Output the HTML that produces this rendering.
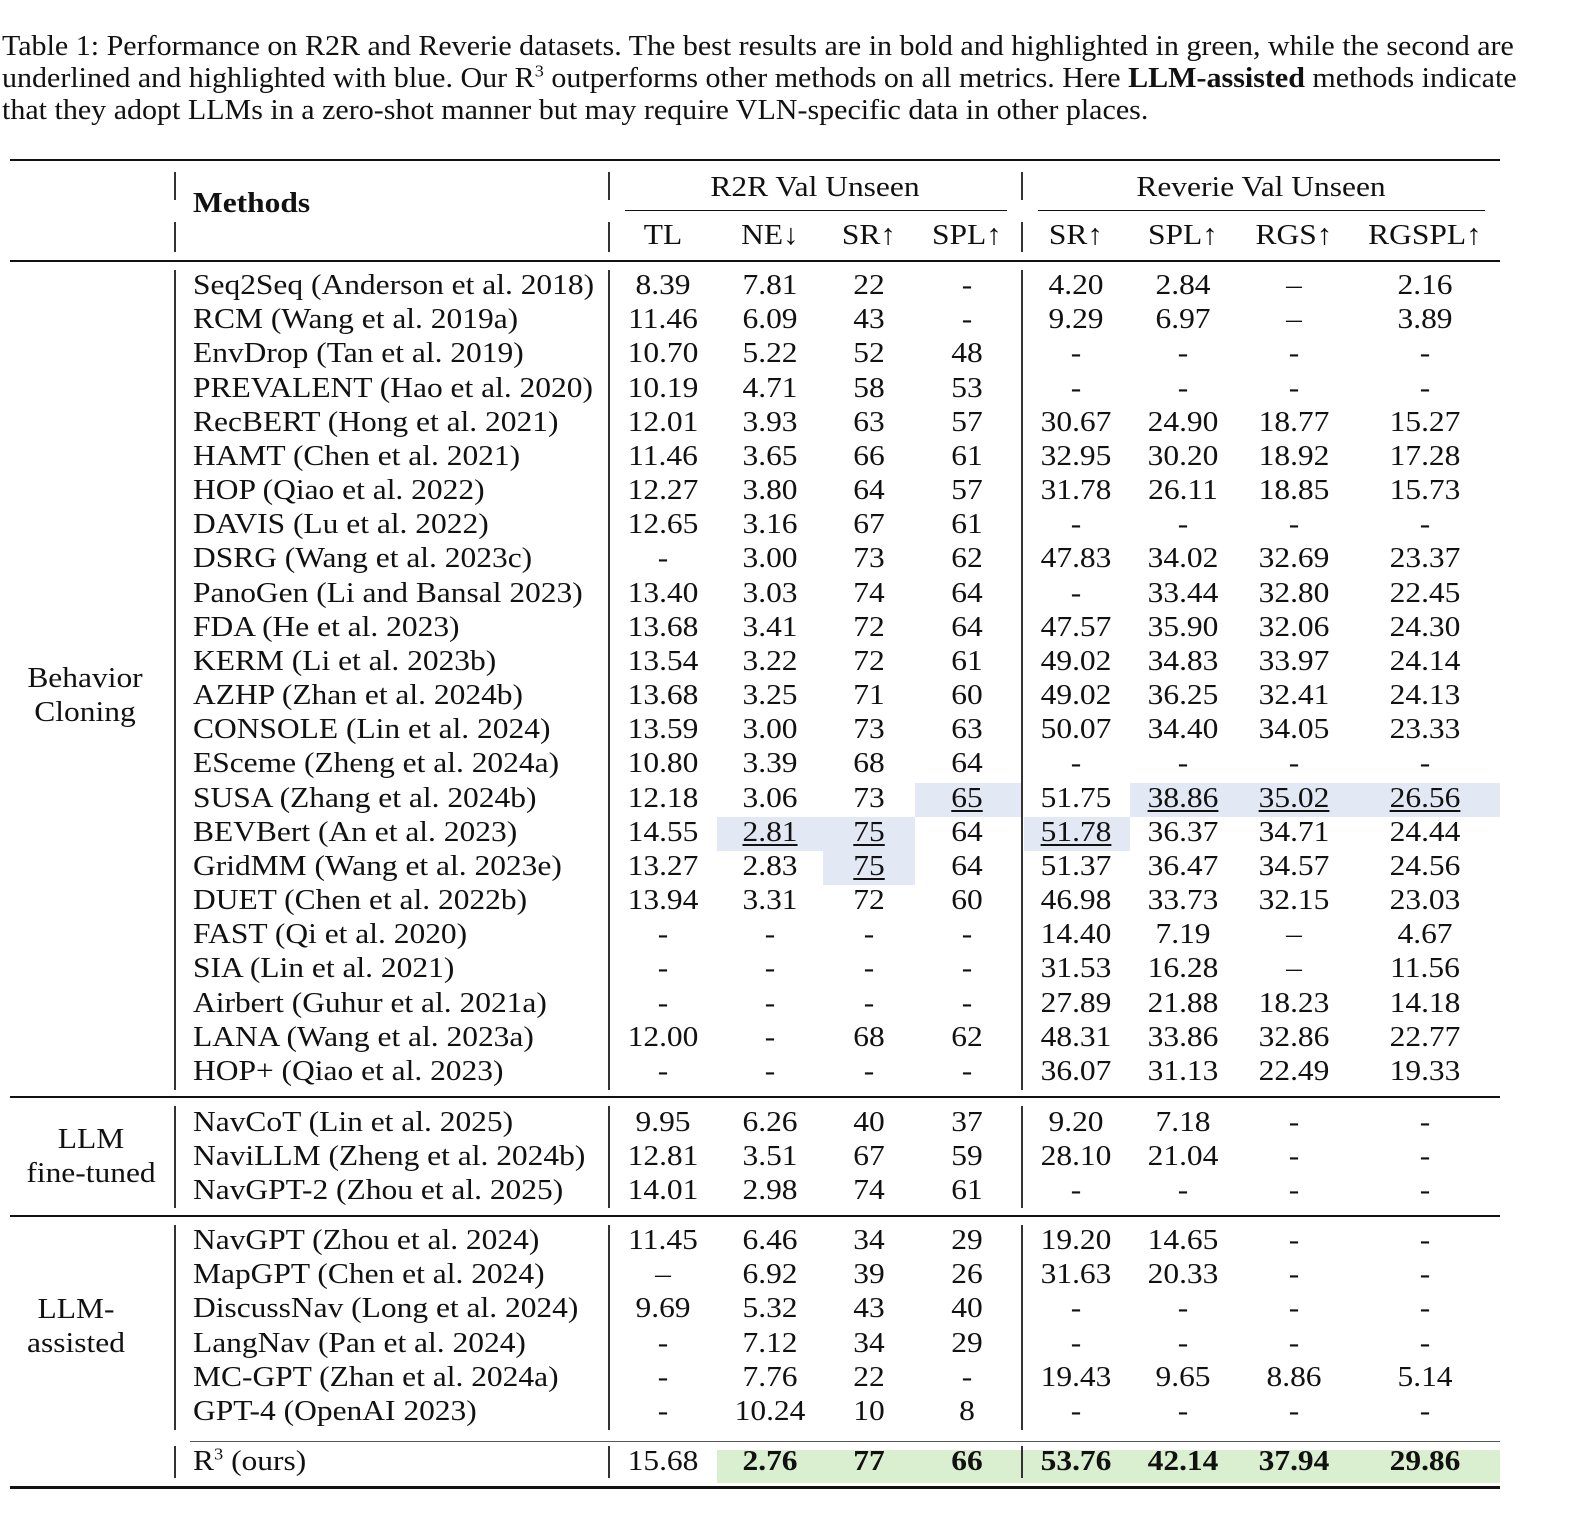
<!DOCTYPE html>
<html><head><meta charset="utf-8">
<style>
body{margin:0;width:1574px;height:1522px;background:#fff;position:relative;overflow:hidden;font-family:"Liberation Serif",serif;color:#111;}
.t{position:absolute;font-size:29px;line-height:34px;white-space:nowrap;transform:scaleX(1.085);transform-origin:left center;}
.c{transform:translateX(-50%) scaleX(1.085);transform-origin:center center;}
.cap{font-size:28px;transform:scaleX(1.072);}
.h{position:absolute;background:#111;}
.v{position:absolute;background:#333;width:2px;}
.bl{position:absolute;background:#e3e8f5;}
.gr{position:absolute;background:#d9efd0;}
u{text-decoration:underline;text-underline-offset:3px;text-decoration-thickness:1.5px;}
</style></head><body>
<div class="t cap" style="left:2px;top:30px">Table 1: Performance on R2R and Reverie datasets. The best results are in bold and highlighted in green, while the second are</div>
<div class="t cap" style="left:2px;top:62px">underlined and highlighted with blue. Our R<sup style="font-size:17px;line-height:0">3</sup> outperforms other methods on all metrics. Here <b>LLM-assisted</b> methods indicate</div>
<div class="t cap" style="left:2px;top:94px">that they adopt LLMs in a zero-shot manner but may require VLN-specific data in other places.</div>

<div class="bl" style="left:915px;top:783px;width:106px;height:34px"></div>
<div class="bl" style="left:1130px;top:783px;width:370px;height:34px"></div>
<div class="bl" style="left:717px;top:817px;width:106px;height:34px"></div>
<div class="bl" style="left:823px;top:817px;width:92px;height:68px"></div>
<div class="bl" style="left:1024px;top:817px;width:106px;height:34px"></div>
<div class="gr" style="left:717px;top:1450px;width:783px;height:33px"></div>

<div class="h" style="left:10px;top:159px;width:1490px;height:2px"></div>
<div class="h" style="left:625px;top:210px;width:382px;height:1px"></div>
<div class="h" style="left:1038px;top:210px;width:447px;height:1px"></div>
<div class="h" style="left:10px;top:260px;width:1490px;height:2px"></div>
<div class="h" style="left:10px;top:1096px;width:1490px;height:2px"></div>
<div class="h" style="left:10px;top:1215px;width:1490px;height:2px"></div>
<div class="h" style="left:190px;top:1441px;width:1310px;height:1px;background:#555"></div>
<div class="h" style="left:10px;top:1486px;width:1490px;height:3px"></div>

<div id="root"></div>
<script>
var root=document.getElementById('root');
function T(x,y,s,cls,st){var d=document.createElement('div');d.className='t '+(cls||'');d.style.left=x+'px';d.style.top=(y-16)+'px';if(st)d.style.cssText+=st;d.innerHTML=s;root.appendChild(d);}
function V(x,y1,y2){var d=document.createElement('div');d.className='v';d.style.left=x+'px';d.style.top=y1+'px';d.style.height=(y2-y1)+'px';root.appendChild(d);}
T(193,202,'<b>Methods</b>');
T(815,186,'R2R Val Unseen','c');
T(1261,186,'Reverie Val Unseen','c');
var cx=[663,770,869,967,1076,1183,1294,1425];
['TL','NE↓','SR↑','SPL↑','SR↑','SPL↑','RGS↑','RGSPL↑'].forEach(function(s,i){T(cx[i],234,s,'c');});
V(174,172,200);V(174,222,252);V(608,172,200);V(608,222,252);V(1021,172,200);V(1021,222,252);
var rows=[
['Seq2Seq (Anderson et al. 2018)','8.39','7.81','22','-','4.20','2.84','–','2.16'],
['RCM (Wang et al. 2019a)','11.46','6.09','43','-','9.29','6.97','–','3.89'],
['EnvDrop (Tan et al. 2019)','10.70','5.22','52','48','-','-','-','-'],
['PREVALENT (Hao et al. 2020)','10.19','4.71','58','53','-','-','-','-'],
['RecBERT (Hong et al. 2021)','12.01','3.93','63','57','30.67','24.90','18.77','15.27'],
['HAMT (Chen et al. 2021)','11.46','3.65','66','61','32.95','30.20','18.92','17.28'],
['HOP (Qiao et al. 2022)','12.27','3.80','64','57','31.78','26.11','18.85','15.73'],
['DAVIS (Lu et al. 2022)','12.65','3.16','67','61','-','-','-','-'],
['DSRG (Wang et al. 2023c)','-','3.00','73','62','47.83','34.02','32.69','23.37'],
['PanoGen (Li and Bansal 2023)','13.40','3.03','74','64','-','33.44','32.80','22.45'],
['FDA (He et al. 2023)','13.68','3.41','72','64','47.57','35.90','32.06','24.30'],
['KERM (Li et al. 2023b)','13.54','3.22','72','61','49.02','34.83','33.97','24.14'],
['AZHP (Zhan et al. 2024b)','13.68','3.25','71','60','49.02','36.25','32.41','24.13'],
['CONSOLE (Lin et al. 2024)','13.59','3.00','73','63','50.07','34.40','34.05','23.33'],
['ESceme (Zheng et al. 2024a)','10.80','3.39','68','64','-','-','-','-'],
['SUSA (Zhang et al. 2024b)','12.18','3.06','73','<u>65</u>','51.75','<u>38.86</u>','<u>35.02</u>','<u>26.56</u>'],
['BEVBert (An et al. 2023)','14.55','<u>2.81</u>','<u>75</u>','64','<u>51.78</u>','36.37','34.71','24.44'],
['GridMM (Wang et al. 2023e)','13.27','2.83','<u>75</u>','64','51.37','36.47','34.57','24.56'],
['DUET (Chen et al. 2022b)','13.94','3.31','72','60','46.98','33.73','32.15','23.03'],
['FAST (Qi et al. 2020)','-','-','-','-','14.40','7.19','–','4.67'],
['SIA (Lin et al. 2021)','-','-','-','-','31.53','16.28','–','11.56'],
['Airbert (Guhur et al. 2021a)','-','-','-','-','27.89','21.88','18.23','14.18'],
['LANA (Wang et al. 2023a)','12.00','-','68','62','48.31','33.86','32.86','22.77'],
['HOP+ (Qiao et al. 2023)','-','-','-','-','36.07','31.13','22.49','19.33']];
var rows2=[
['NavCoT (Lin et al. 2025)','9.95','6.26','40','37','9.20','7.18','-','-'],
['NaviLLM (Zheng et al. 2024b)','12.81','3.51','67','59','28.10','21.04','-','-'],
['NavGPT-2 (Zhou et al. 2025)','14.01','2.98','74','61','-','-','-','-']];
var rows3=[
['NavGPT (Zhou et al. 2024)','11.45','6.46','34','29','19.20','14.65','-','-'],
['MapGPT (Chen et al. 2024)','–','6.92','39','26','31.63','20.33','-','-'],
['DiscussNav (Long et al. 2024)','9.69','5.32','43','40','-','-','-','-'],
['LangNav (Pan et al. 2024)','-','7.12','34','29','-','-','-','-'],
['MC-GPT (Zhan et al. 2024a)','-','7.76','22','-','19.43','9.65','8.86','5.14'],
['GPT-4 (OpenAI 2023)','-','10.24','10','8','-','-','-','-']];
function block(rs,y0){rs.forEach(function(r,i){var y=y0+i*34.17;T(193,y,r[0]);for(var j=1;j<9;j++)T(cx[j-1],y,r[j],'c');});}
block(rows,284);block(rows2,1121);block(rows3,1239);
T(193,1460,'R<sup style="font-size:17px;line-height:0">3</sup> (ours)');
['15.68','<b>2.76</b>','<b>77</b>','<b>66</b>','<b>53.76</b>','<b>42.14</b>','<b>37.94</b>','<b>29.86</b>'].forEach(function(s,i){T(cx[i],1460,s,'c');});
V(174,270,1090);V(608,270,1090);V(1021,270,1090);
V(174,1106,1208);V(608,1106,1208);V(1021,1106,1208);
V(174,1225,1430);V(608,1225,1430);V(1021,1225,1430);
V(174,1446,1478);V(608,1446,1478);V(1021,1446,1478);
T(85,677,'Behavior','c');T(85,711,'Cloning','c');
T(91,1138,'LLM','c');T(91,1172,'fine-tuned','c');
T(76,1308,'LLM-','c');T(76,1342,'assisted','c');
</script>
</body></html>
